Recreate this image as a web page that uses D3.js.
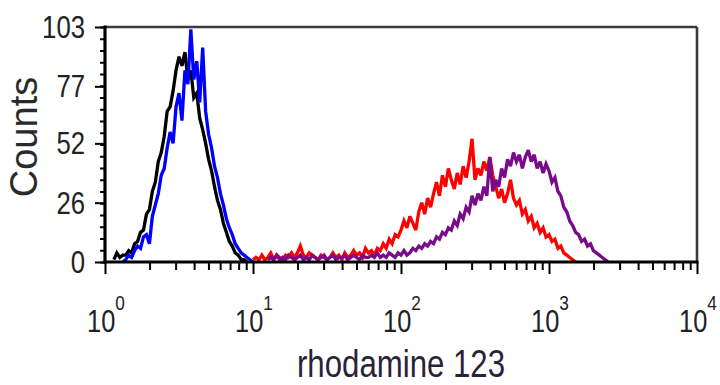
<!DOCTYPE html>
<html>
<head>
<meta charset="utf-8">
<script src="https://cdn.jsdelivr.net/npm/d3@7"></script>
<style>
html,body{margin:0;padding:0;background:#fff;}
svg{display:block;}
text{font-family:"Liberation Sans",Arial,sans-serif;fill:#222;}
</style>
</head>
<body>
<svg id="chart" width="720" height="385"></svg>
<script>
// ---- data (counts per channel; channels are 50 per decade on log axis) ----
const binsPerDecade = 50;
const xDomain = [1, 10000];
const yDomain = [0, 103];
const yTickValues = [0, 26, 52, 77, 103];
const xTickExponents = [0, 1, 2, 3, 4];
const xTitle = "rhodamine 123";
const yTitle = "Counts";

const blackStart = 3;
const blackCounts = [1,4,2,3,3,5,4,8,9,13,14,21,23,31,35,44,48,55,66,68,75,84,90,86,92,80,84,72,74,63,58,52,45,40,33,27,23,17,13,9,7,4,3,1,1,0];

const blueStart = 6;
const blueCounts = [0,1,3,2,5,7,6,11,12,8,20,25,30,38,41,50,57,52,68,74,62,84,78,102,80,88,70,94,66,56,50,42,37,30,25,19,15,12,8,6,4,3,2,1,0];

const redStart = 50;
const redCounts = [1,2,1,3,1,2,4,1,3,2,1,3,2,4,2,4,7,3,2,4,3,2,1,3,2,1,2,4,2,3,1,4,2,3,5,3,4,2,6,4,5,3,6,5,8,6,10,8,12,11,14,18,15,20,17,14,22,26,21,28,24,30,35,29,38,33,41,36,32,39,34,42,37,44,54,36,41,38,44,40,46,38,33,28,32,26,30,36,28,25,27,21,23,18,20,15,17,13,15,11,12,9,10,6,7,4,3,2,1,0];

const purpleStart = 55;
const purpleCounts = [1,2,1,3,1,2,1,3,2,1,2,3,1,2,1,3,2,1,2,3,1,2,3,1,2,2,3,1,2,3,2,1,3,2,2,3,2,4,2,3,2,4,3,2,4,3,5,3,4,6,5,7,6,8,7,9,8,11,10,13,12,15,14,18,16,21,19,24,22,29,25,30,27,33,29,46,31,36,33,41,37,45,42,48,44,47,41,46,49,44,47,41,44,39,43,40,35,37,31,29,24,22,18,16,13,12,9,10,7,8,5,4,3,2,1,0];

const seriesList = [
  {name:"control", color:"#000000", start:blackStart, counts:blackCounts},
  {name:"control2", color:"#0000ff", start:blueStart, counts:blueCounts},
  {name:"sample1", color:"#ff0000", start:redStart, counts:redCounts},
  {name:"sample2", color:"#7a0a8c", start:purpleStart, counts:purpleCounts}
];

// ---- layout ----
const pLeft = 105, pRight = 697, pTop = 27, pBottom = 262;
const svg = d3.select("#chart");

const x = d3.scaleLog().domain(xDomain).range([pLeft, pRight]);
const y = d3.scaleLinear().domain(yDomain).range([pBottom, pTop]);

svg.append("clipPath").attr("id","plotclip")
  .append("rect").attr("x",pLeft).attr("y",pTop-3).attr("width",pRight-pLeft).attr("height",pBottom-pTop+3);

// series
const line = d3.line()
  .x(d => x(d[0]))
  .y(d => y(d[1]))
  .curve(d3.curveLinear);

const g = svg.append("g").attr("clip-path","url(#plotclip)");
seriesList.forEach(s => {
  const pts = s.counts.map((c,i) => [Math.pow(10,(s.start+i)/binsPerDecade), c]);
  g.append("path")
    .attr("d", line(pts))
    .attr("fill","none")
    .attr("stroke", s.color)
    .attr("stroke-width", 3.3)
    .attr("stroke-linejoin","miter")
    .attr("stroke-miterlimit", 3);
});

// frame top & right
svg.append("line").attr("x1",pLeft).attr("x2",pRight).attr("y1",pTop).attr("y2",pTop)
  .attr("stroke","#3a3a3a").attr("stroke-width",2.6);
svg.append("line").attr("x1",pRight).attr("x2",pRight).attr("y1",pTop).attr("y2",pBottom)
  .attr("stroke","#3a3a3a").attr("stroke-width",2.6);

// x axis
const xMinor = [];
for (let e = 0; e < 4; e++) for (let m = 2; m <= 9; m++) xMinor.push(m*Math.pow(10,e));
const xAxisMinor = d3.axisBottom(x).tickValues(xMinor).tickSize(8).tickFormat("");
const xAxisMajor = d3.axisBottom(x).tickValues(xTickExponents.map(e=>Math.pow(10,e))).tickSize(12).tickFormat("");
[xAxisMinor, xAxisMajor].forEach(ax => {
  const a = svg.append("g").attr("transform",`translate(0,${pBottom})`).call(ax);
  a.select(".domain").remove();
  a.selectAll(".tick line").attr("stroke","#000").attr("stroke-width",2);
});
svg.append("line").attr("x1",pLeft-1.5).attr("x2",pRight+1.5).attr("y1",pBottom).attr("y2",pBottom)
  .attr("stroke","#000").attr("stroke-width",3.2);

// x tick labels 10^n
xTickExponents.forEach(e => {
  const t = svg.append("text")
    .attr("transform",`translate(${x(Math.pow(10,e))+1},332) scale(0.82,1)`)
    .attr("text-anchor","middle")
    .style("font-size","31px");
  t.append("tspan").text("10");
  t.append("tspan").attr("dy",-22).style("font-size","21px").text(String(e));
});

// y axis
const yMinor = d3.range(0,21).map(i => i*103/20);
const yAxisMinor = d3.axisLeft(y).tickValues(yMinor).tickSize(5).tickFormat("");
const yAxisMajor = d3.axisLeft(y).tickValues(yTickValues).tickSize(10).tickFormat("");
[yAxisMinor, yAxisMajor].forEach(ax => {
  const a = svg.append("g").attr("transform",`translate(${pLeft},0)`).call(ax);
  a.select(".domain").remove();
  a.selectAll(".tick line").attr("stroke","#000").attr("stroke-width",2);
});
svg.append("line").attr("x1",pLeft).attr("x2",pLeft).attr("y1",pTop-1.5).attr("y2",pBottom+1.5)
  .attr("stroke","#000").attr("stroke-width",3.2);

yTickValues.forEach(v => {
  svg.append("text")
    .attr("transform",`translate(85,${y(v)+11}) scale(0.83,1)`)
    .attr("text-anchor","end")
    .style("font-size","31px")
    .text(String(v));
});

// titles
svg.append("text")
  .attr("transform",`translate(401,377) scale(0.8,1)`)
  .attr("text-anchor","middle")
  .style("font-size","39px")
  .style("fill","#2a2238")
  .text(xTitle);

svg.append("text")
  .attr("transform",`translate(37,137) rotate(-90)`)
  .attr("text-anchor","middle")
  .style("font-size","38px")
  .style("fill","#2a2a2a")
  .text(yTitle);
</script>
</body>
</html>
